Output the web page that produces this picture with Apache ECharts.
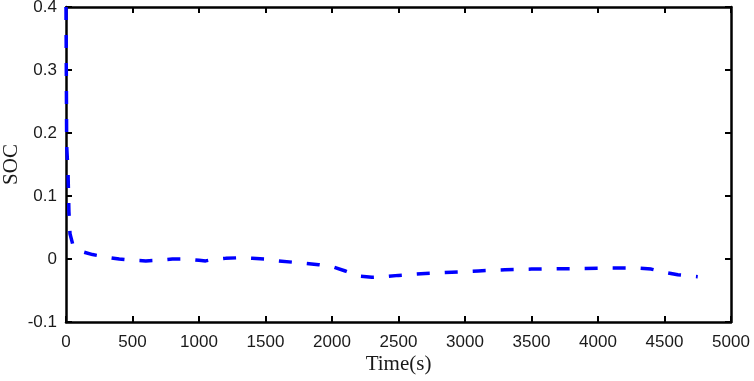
<!DOCTYPE html>
<html>
<head>
<meta charset="utf-8">
<script src="https://cdn.jsdelivr.net/npm/echarts@6/dist/echarts.min.js"></script>
<style>html,body{margin:0;padding:0;background:#fff}#c{width:754px;height:381px}</style>
</head>
<body>
<div id="c"></div>
<script>
const timeS = [0, 5, 15, 22, 30, 50, 100, 200, 300, 400, 500, 600, 700, 800, 900, 1000, 1050, 1100, 1200, 1300, 1400, 1500, 1600, 1700, 1800, 1900, 2000, 2100, 2200, 2300, 2400, 2500, 2700, 2900, 3100, 3300, 3500, 3700, 3900, 4100, 4300, 4400, 4500, 4600, 4750];
const soc = [0.4, 0.18, 0.14, 0.075, 0.04, 0.024, 0.013, 0.007, 0.003, 0.0, -0.002, -0.003, -0.002, 0, 0, -0.002, -0.003, -0.001, 0.001, 0.002, 0.001, 0, -0.003, -0.005, -0.007, -0.009, -0.012, -0.019, -0.027, -0.029, -0.028, -0.026, -0.023, -0.021, -0.019, -0.017, -0.016, -0.0155, -0.015, -0.0143, -0.0145, -0.016, -0.021, -0.025, -0.028];
const xTicks = {min: 0, max: 5000, step: 500};
const yTicks = {min: -0.1, max: 0.4, step: 0.1};
const xName = 'Time(s)';
const yName = 'SOC';

const chart = echarts.init(document.getElementById('c'), null, {renderer: 'canvas'});
const axisLine = {show: true, onZero: false, lineStyle: {color: '#000', width: 2.5}};
const tickIn = {show: true, inside: true, length: 6, lineStyle: {color: '#000', width: 2}};
const lblFont = {color: '#1a1a1a', fontFamily: 'Liberation Sans, Arial, sans-serif', fontSize: 17};
const nameFont = {color: '#1a1a1a', fontFamily: 'Liberation Serif, Times New Roman, serif', fontSize: 21};
chart.setOption({
  animation: false,
  backgroundColor: '#fff',
  grid: {left: 66, right: 23, top: 7, bottom: 59, containLabel: false, outerBoundsMode: 'none'},
  xAxis: [{
    type: 'value', min: xTicks.min, max: xTicks.max, interval: xTicks.step,
    name: xName, nameLocation: 'middle', nameGap: 32, nameMoveOverlap: false, nameTextStyle: nameFont,
    axisLine: axisLine, axisTick: tickIn, splitLine: {show: false},
    axisLabel: Object.assign({margin: 12, formatter: v => String(v)}, lblFont)
  }, {
    type: 'value', position: 'top', min: xTicks.min, max: xTicks.max, interval: xTicks.step,
    axisLine: axisLine, axisTick: tickIn, splitLine: {show: false}, axisLabel: {show: false}
  }],
  yAxis: [{
    type: 'value', min: yTicks.min, max: yTicks.max, interval: yTicks.step,
    name: yName, nameLocation: 'middle', nameGap: 44, nameMoveOverlap: false, nameTextStyle: nameFont,
    axisLine: axisLine, axisTick: tickIn, splitLine: {show: false},
    axisLabel: Object.assign({margin: 9, formatter: v => String(Math.round(v * 10) / 10)}, lblFont)
  }, {
    type: 'value', position: 'right', min: yTicks.min, max: yTicks.max, interval: yTicks.step,
    axisLine: axisLine, axisTick: tickIn, splitLine: {show: false}, axisLabel: {show: false}
  }],
  series: [{
    type: 'line', xAxisIndex: 0, yAxisIndex: 0,
    data: timeS.map((t, i) => [t, soc[i]]),
    showSymbol: false, symbol: 'none', smooth: false,
    lineStyle: {color: '#0000ff', width: 3.5, type: [13, 15]},
    clip: true
  }]
});
</script>
</body>
</html>
